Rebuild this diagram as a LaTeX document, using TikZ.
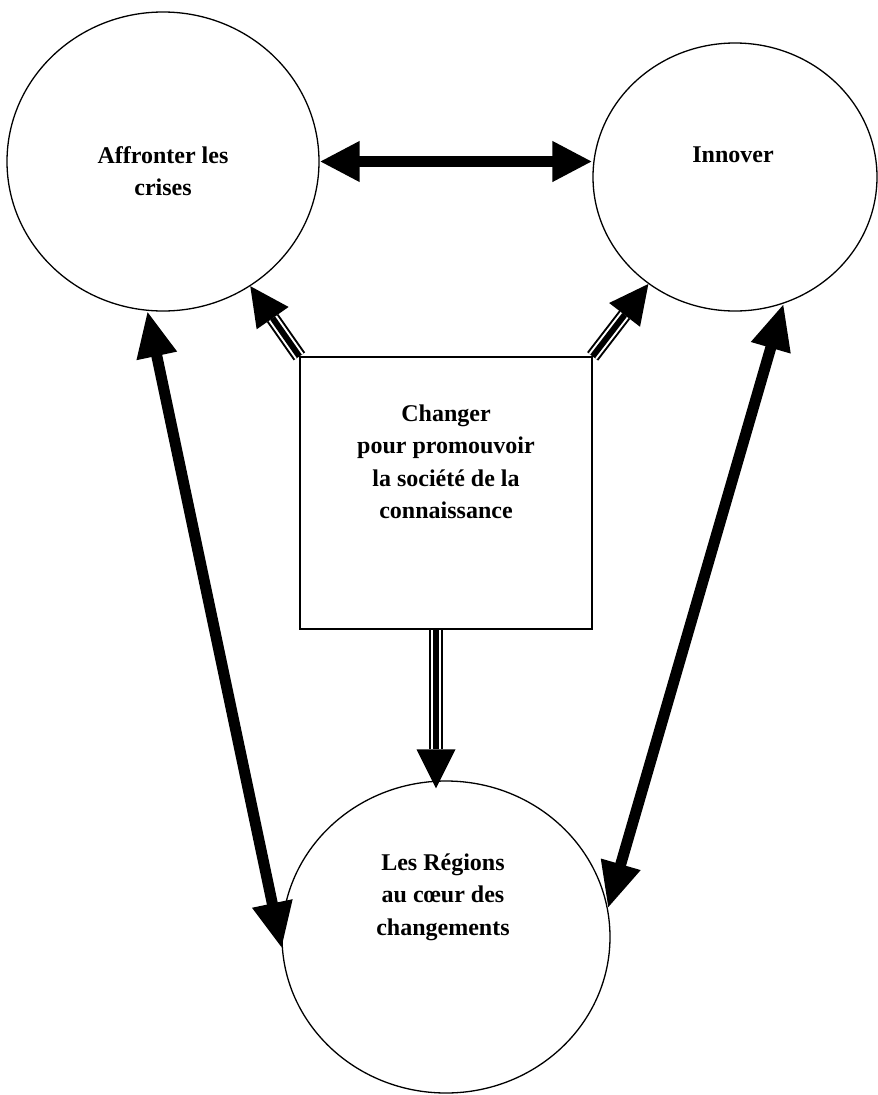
\documentclass[tikz,border=0pt]{standalone}
\usepackage{fontspec}
\setmainfont{Liberation Serif}
\usetikzlibrary{shapes.geometric,arrows.meta,calc}
\tikzset{
  bubble/.style={draw, ellipse, line width=1.3pt, inner sep=0pt},
  frame/.style={draw, rectangle, line width=1.3pt, inner sep=0pt},
  lbl/.style={font=\bfseries\fontsize{24}{32.5}\selectfont, align=center, inner sep=0pt},
  bigarrow/.style={line width=11pt, {Triangle[length=40pt,width=38pt]}-{Triangle[length=40pt,width=38pt]}},
  longarrow/.style={line width=11pt, {Triangle[length=46pt,width=38pt]}-{Triangle[length=46pt,width=38pt]}},
}
\newcommand{\triplearrow}[2]{%
  \coordinate (tmpbase) at ($(#2)!39pt!(#1)$);
  \draw[line width=14pt] (#1) -- (tmpbase);
  \draw[line width=10pt, white] (#1) -- (tmpbase);
  \draw[line width=6pt] (#1) -- (tmpbase);
  \fill ($(tmpbase)!19.5pt!90:(#2)$) -- (#2) -- ($(tmpbase)!19.5pt!-90:(#2)$) -- cycle;
}
\begin{document}
\begin{tikzpicture}[x=1pt,y=-1pt]
  \useasboundingbox (0,0) rectangle (878,1095);
  % circles
  \node[bubble, minimum width=312pt, minimum height=299pt] (A) at (163,161.5) {};
  \node[bubble, minimum width=284pt, minimum height=268pt] (B) at (735,177) {};
  \node[bubble, minimum width=328pt, minimum height=312pt] (C) at (446,937) {};
  % central box
  \node[frame, minimum width=292pt, minimum height=272pt] (box) at (446,493) {};
  % labels
  \node[lbl] (tA) at (163,171) {Affronter les\\crises};
  \node[lbl] (tB) at (733,155) {Innover};
  \node[lbl] (tbox) at (446,462) {Changer\\pour promouvoir\\la société de la\\connaissance};
  \node[lbl] (tC) at (443,897) {Les Régions\\au cœur des\\changements};
  % connectors
  \draw[bigarrow] (A.east) -- (A.east -| B.west);
  \draw[longarrow] (A.{-96}) -- (C.{184});
  \draw[longarrow] (B.{-69}) -- (C.{10});
  \coordinate (bnw) at (box.north west);
  \coordinate (bne) at (box.north east);
  \coordinate (tipA) at (A.{-55});
  \coordinate (tipB) at (B.{-129});
  \coordinate (bs) at ([xshift=-10pt]box.south);
  \coordinate (tipC) at ([xshift=-10pt,yshift=-8pt]C.north);
  \triplearrow{bnw}{tipA}
  \triplearrow{bne}{tipB}
  \triplearrow{bs}{tipC}
  \node[frame, minimum width=292pt, minimum height=272pt] at (box) {};
\end{tikzpicture}
\end{document}
